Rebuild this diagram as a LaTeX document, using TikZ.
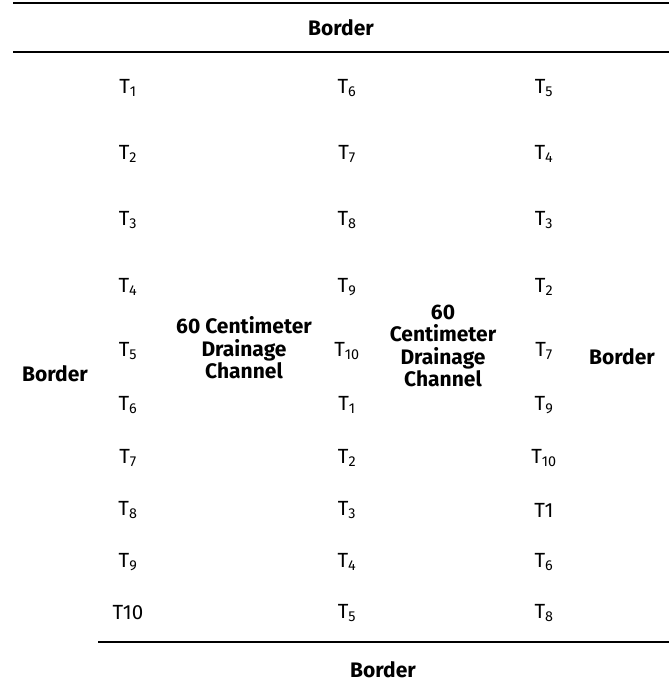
\documentclass[tikz,border=0pt]{standalone}
\usepackage{fontspec}
\setmainfont{Fira Sans}
\begin{document}
\begin{tikzpicture}[x=1pt,y=-1pt,
  tlab/.style={font=\fontsize{20.5}{24}\selectfont, inner sep=0pt},
  blab/.style={font=\fontsize{21}{22.5}\selectfont\bfseries, align=center, inner sep=0pt},
  rulel/.style={line width=1.3pt}]
\useasboundingbox (0,0) rectangle (669,688);
% rules
\coordinate (a1) at (13,3);  \coordinate (a2) at (669,3);
\coordinate (b1) at (13,52); \coordinate (b2) at (669,52);
\coordinate (c1) at (98,642); \coordinate (c2) at (669,642);
\draw[rulel] (a1) -- (a2);
\draw[rulel] (b1) -- (b2);
\draw[rulel] (c1) -- (c2);
% borders
\node[blab] (btop) at (341,28) {Border};
\node[blab] (bbot) at (383,670) {Border};
\node[blab] (bleft) at (55,374) {Border};
\node[blab] (bright) at (622,357) {Border};
% channels
\node[blab] (ch1) at (244,348) {60 Centimeter\\Drainage\\Channel};
\node[blab] (ch2) at (443,346) {60\\Centimeter\\Drainage\\Channel};
% columns
\def\rowys{88,154,220,287,351,405,458,510,562,613}
\foreach \t/\y [count=\i] in {T\textsubscript{1}/88,T\textsubscript{2}/154,T\textsubscript{3}/220,T\textsubscript{4}/287,T\textsubscript{5}/351,T\textsubscript{6}/405,T\textsubscript{7}/458,T\textsubscript{8}/510,T\textsubscript{9}/562,T10/613}
  \node[tlab] (L\i) at (128,\y) {\t};
\foreach \t/\y [count=\i] in {T\textsubscript{6}/88,T\textsubscript{7}/154,T\textsubscript{8}/220,T\textsubscript{9}/287,T\textsubscript{10}/351,T\textsubscript{1}/405,T\textsubscript{2}/458,T\textsubscript{3}/510,T\textsubscript{4}/562,T\textsubscript{5}/613}
  \node[tlab] (M\i) at (347,\y) {\t};
\foreach \t/\y [count=\i] in {T\textsubscript{5}/88,T\textsubscript{4}/154,T\textsubscript{3}/220,T\textsubscript{2}/287,T\textsubscript{7}/351,T\textsubscript{9}/405,T\textsubscript{10}/458,T1/510,T\textsubscript{6}/562,T\textsubscript{8}/613}
  \node[tlab] (R\i) at (544,\y) {\t};
\end{tikzpicture}
\end{document}
